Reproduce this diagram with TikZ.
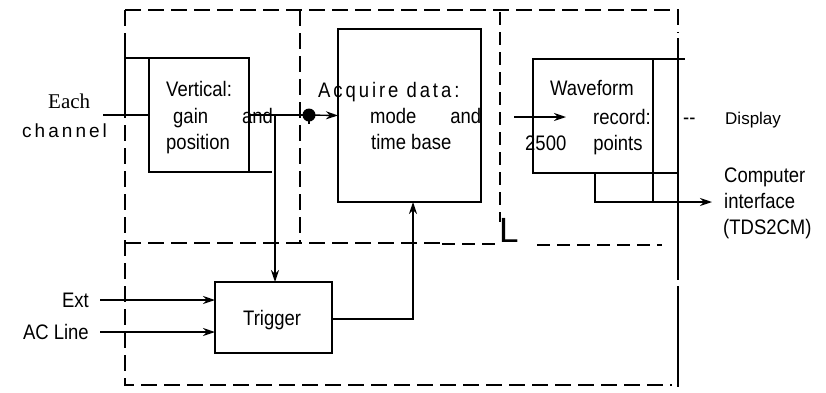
\documentclass[tikz,border=0pt]{standalone}
\usepackage{fontspec}
\setmainfont{Liberation Serif}
\setsansfont{Liberation Sans}
\newfontfamily\nar{Liberation Sans}[FakeStretch=0.88]
\usetikzlibrary{arrows.meta}
\tikzset{
  blk/.style={draw, line width=2.6pt, inner sep=0pt, outer sep=0pt},
  conn/.style={line width=1.4pt},
  arr/.style={conn, -{Stealth[length=12pt,width=8pt]}},
  dsh/.style={line width=1.3pt, dash pattern=on 16pt off 7pt},
  dshb/.style={line width=2.4pt, dash pattern=on 13pt off 7pt},
  txt/.style={font=\nar\fontsize{21}{24}\selectfont, inner sep=0pt, anchor=base west},
  wide/.style={font=\nar\fontsize{21}{24}\selectfont\addfontfeature{LetterSpace=14}, inner sep=0pt, anchor=base west},
}
\begin{document}
\begin{tikzpicture}[x=1pt,y=-1pt]
\useasboundingbox (0,0) rectangle (826,392);
% boxes
\node[blk, minimum width=100pt, minimum height=114pt] (vert) at (199,115) {};
\node[blk, minimum width=143pt, minimum height=173pt] (acq) at (409.5,115.5) {};
\node[blk, minimum width=117pt, minimum height=71pt] (trig) at (273.5,317.5) {};
\node[blk, minimum width=120pt, minimum height=114pt] (wave) at (593,116) {};
% dashed frames
\draw[dsh] (125,10) -- (678,10) -- (678,33);
\draw[dsh] (125,10) -- (125,385) -- (672,385);
\draw[dsh] (125,243) -- (440,243);
\draw[dshb] (442,244) -- (498,244);
\draw[dshb] (537,245) -- (662,245);
\draw[dsh] (300,10) -- (300,243);
\draw[dshb] (500,12) -- (500,222);
\node[font=\sffamily\fontsize{35}{35}\selectfont, inner sep=0pt, anchor=base west] (ell) at (499,242) {L};
\draw[line width=1.6pt] (678,38) -- (678,280);
\draw[line width=1.6pt] (678,286) -- (678,387);
% vertical box lines
\coordinate (lft) at (125,36);
\draw[conn] (vert.north west) -- (vert.north west -| lft);
\draw[conn] (lft) -- (lft |- vert.west);
\draw[conn] (vert.south east) -- ++(23,0);
\coordinate (in) at (103,115);
\draw[conn] (in) -- (vert.west);
% output of vertical
\coordinate (dot) at (309,115);
\coordinate (br) at (275,115);
\draw[conn] (vert.east) -- (dot);
\fill (dot) circle (6.5pt);
\draw[conn] (dot) -- ++(0,9);
\draw[arr] (dot) -- (acq.west);
\draw[arr] (br) -- (br |- trig.north);
% trigger
\coordinate (e1) at (100,300);
\coordinate (e2) at (100,332);
\draw[arr] (e1) -- (e1 -| trig.west);
\draw[arr] (e2) -- (e2 -| trig.west);
\coordinate (t1) at (413,319);
\draw[arr] (t1 -| trig.east) -- (t1) -- (t1 |- acq.south);
% waveform
\coordinate (w0) at (514,117);
\coordinate (w1) at (566,117);
\draw[arr] (w0) -- (w1);
\coordinate (c0) at (595,202);
\coordinate (c1) at (712,202);
\draw[conn] (wave.north east) -- ++(32,0);
\draw[conn] (wave.south east) -- ++(24,0);
\draw[line width=2.6pt] (wave.north east) -- (wave.north east |- c0);
\draw[arr] (c0 |- wave.south) -- (c0) -- (c1);
% texts
\node[font=\rmfamily\fontsize{21}{24}\selectfont, inner sep=0pt, anchor=base west] (each) at (48,108) {Each};
\node[font=\sffamily\fontsize{19}{24}\selectfont\addfontfeature{LetterSpace=16}, inner sep=0pt, anchor=base west] (chan) at (22,137) {channel};
\node[txt] (v1) at (166,96) {Vertical:};
\node[txt] (v2) at (173,123) {gain\hspace{34pt}and};
\node[txt] (v3) at (166,149) {position};
\node[wide] (a1) at (318,97) {Acquire data:};
\node[txt] (a2) at (370,123) {mode\hspace{34pt}and};
\node[txt] (a3) at (371,149) {time base};
\node[txt] (wv1) at (550,95) {Waveform};
\node[txt] (wv2) at (593,124) {record:};
\node[txt] (wv3) at (525,150) {2500\hspace{27pt}points};
\node[txt] (dd) at (683,124) {--};
\node[font=\sffamily\fontsize{17}{20}\selectfont, inner sep=0pt, anchor=base west] (disp) at (725,124) {Display};
\node[txt] (cp1) at (724,182) {Computer};
\node[txt] (cp2) at (724,208) {interface};
\node[txt] (cp3) at (723,234) {(TDS2CM)};
\node[txt, anchor=base east] (ext) at (89,307) {Ext};
\node[txt, anchor=base east] (acl) at (89,339) {AC Line};
\node[txt] (trg) at (243,325) {Trigger};
\end{tikzpicture}
\end{document}
